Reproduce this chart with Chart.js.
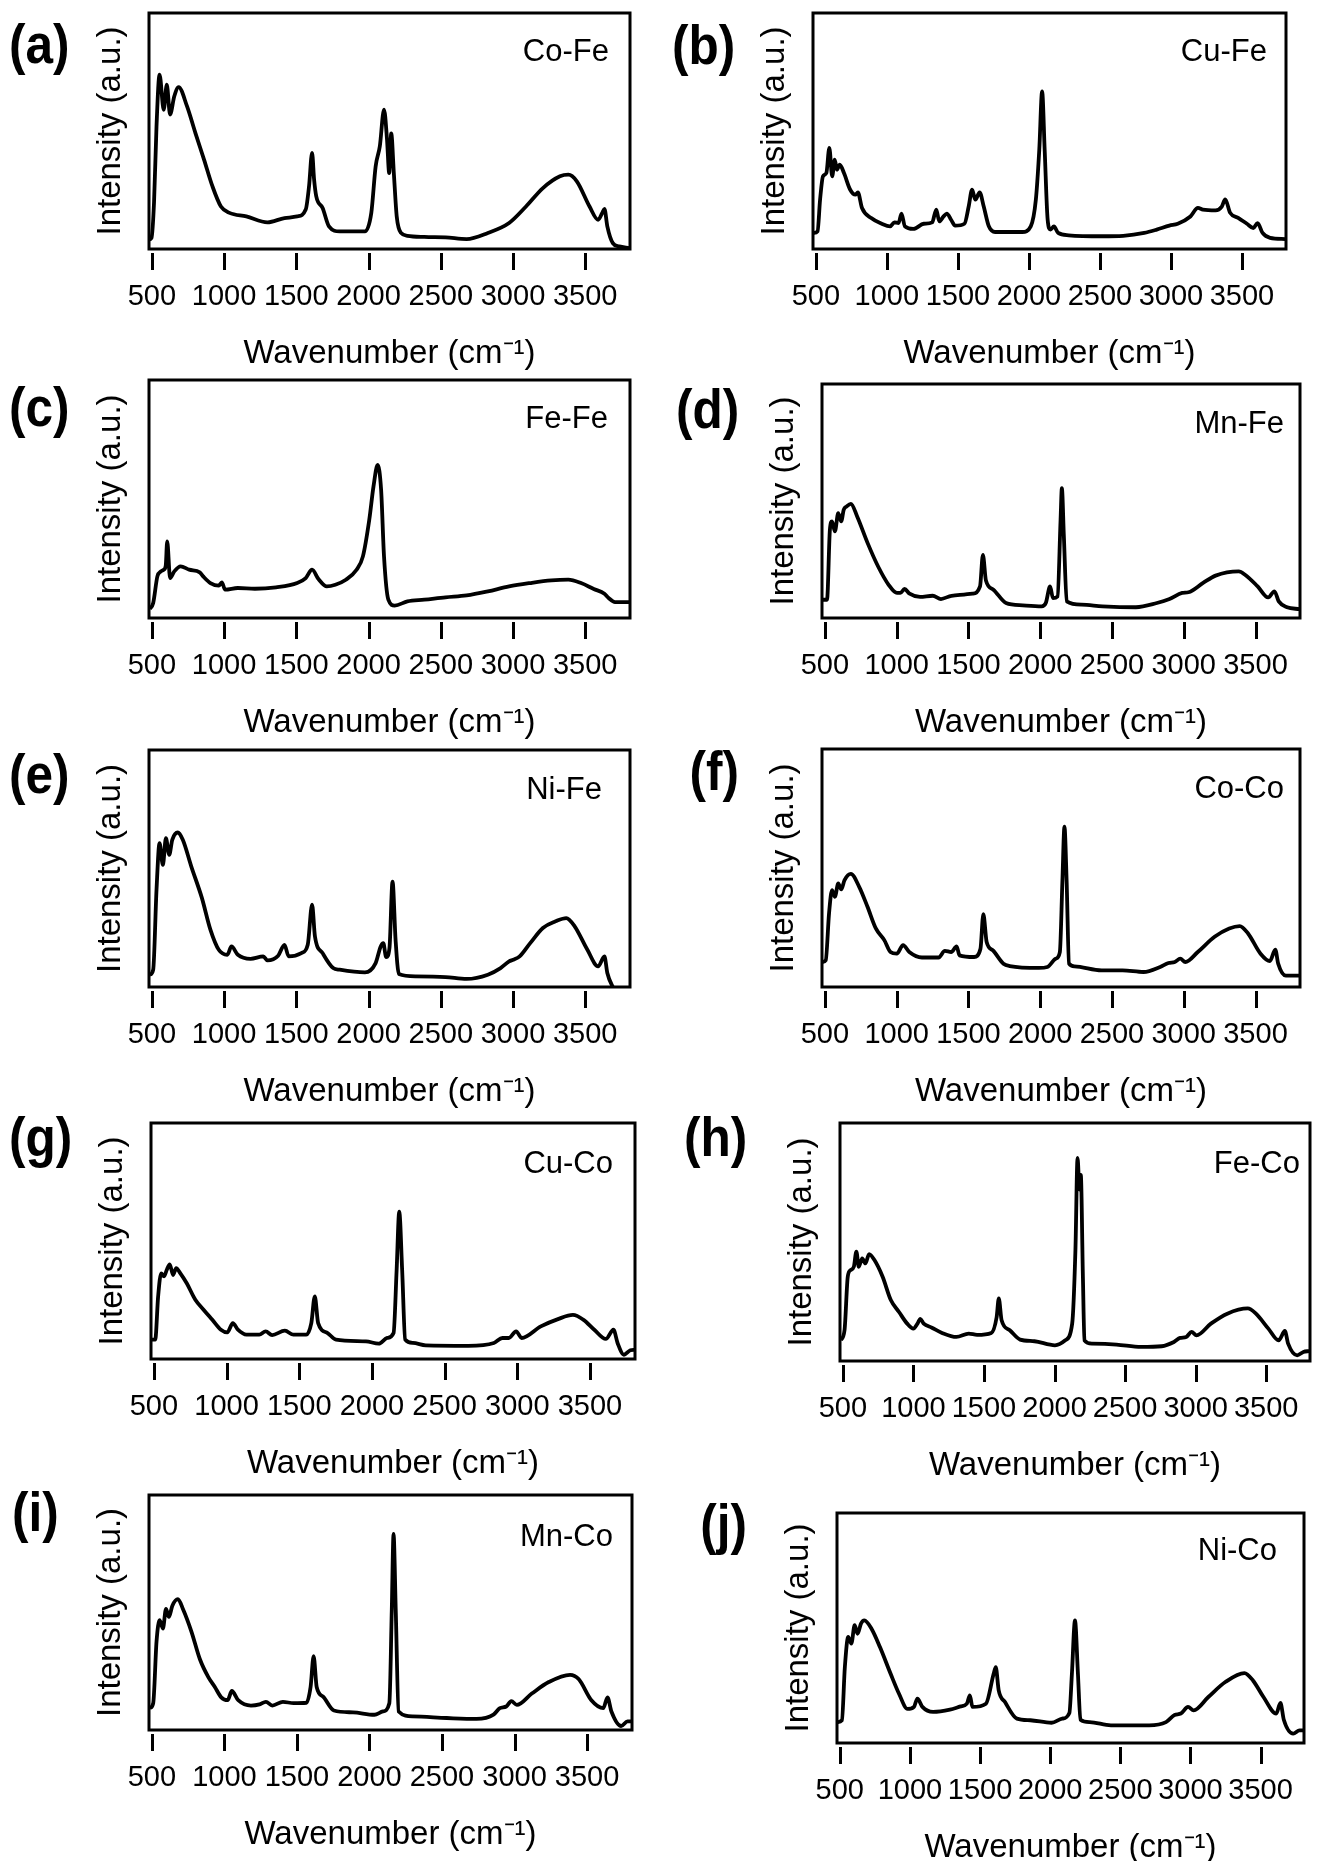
<!DOCTYPE html>
<html>
<head>
<meta charset="utf-8">
<script src="https://cdn.jsdelivr.net/npm/chart.js@4.4.1/dist/chart.umd.min.js"></script>
<style>
  html, body { margin: 0; padding: 0; background: #fff; }
  #page { position: relative; width: 1317px; height: 1861px; overflow: hidden;
          font-family: "Liberation Sans", Arial, sans-serif; color: #000; }
  .panel { position: absolute; }
  .letter { position: absolute; font-weight: bold; font-size: 55px; line-height: 55px; white-space: nowrap; transform: scaleX(0.9); }
  .sample { position: absolute; font-size: 31px; line-height: 31px; white-space: nowrap; }
</style>
</head>
<body>
<div id="page"></div>
<script>
// axis text
var tickValues = [500, 1000, 1500, 2000, 2500, 3000, 3500];
var xTitle = 'Wavenumber (cm\u207B\u00B9)';
var yTitle = 'Intensity (a.u.)';
var panelLetters = ['(a)', '(b)', '(c)', '(d)', '(e)', '(f)', '(g)', '(h)', '(i)', '(j)'];
var sampleNames = ['Co-Fe', 'Cu-Fe', 'Fe-Fe', 'Mn-Fe', 'Ni-Fe', 'Co-Co', 'Cu-Co', 'Fe-Co', 'Mn-Co', 'Ni-Co'];

// spectra: wavenumber (cm-1) and intensity (% of panel height)
var coFeWave = [482, 497, 515, 532, 553, 582, 603, 626, 655, 685, 743, 802, 861, 919, 978, 1037, 1154, 1300, 1418, 1506, 1565, 1588, 1609, 1623, 1638, 1682, 1726, 1800, 1975, 2019, 2049, 2078, 2107, 2128, 2143, 2157, 2175, 2195, 2225, 2269, 2386, 2533, 2679, 2826, 2973, 3090, 3207, 3325, 3383, 3442, 3530, 3589, 3618, 3633, 3653, 3691, 3735, 3805];
var coFeInt = [4, 4.7, 20, 52, 73.9, 59, 69.6, 57, 64.7, 68.6, 60.5, 49, 37.9, 26.6, 18, 15.3, 13.8, 11.3, 13.1, 13.8, 16.7, 26.6, 40.7, 29.4, 22.3, 17.4, 9.6, 7.5, 7.5, 15.3, 35, 43.5, 59, 46.3, 32.2, 49, 32.2, 13.8, 6.8, 5.6, 5.1, 4.9, 4.2, 6.8, 11, 18, 25.8, 30.8, 31.5, 28.7, 18, 12.4, 15.3, 17, 9.6, 2.5, 1.1, 0.4];

var cuFeWave = [485, 512, 530, 550, 574, 595, 615, 633, 648, 668, 698, 742, 778, 796, 825, 890, 964, 1023, 1053, 1082, 1103, 1127, 1186, 1260, 1319, 1348, 1369, 1399, 1422, 1452, 1481, 1546, 1576, 1600, 1623, 1653, 1682, 1718, 1762, 1954, 2013, 2049, 2073, 2093, 2111, 2132, 2152, 2176, 2206, 2280, 2516, 2664, 2812, 2900, 2989, 3048, 3137, 3190, 3225, 3314, 3358, 3382, 3417, 3476, 3535, 3580, 3610, 3645, 3698, 3805];
var cuFeInt = [6.8, 7.5, 21, 30.8, 32.2, 42.8, 30.8, 37.9, 33.6, 35.7, 32.2, 25.1, 23, 24, 17.4, 13.1, 10.7, 9.6, 11.3, 11, 15, 9.6, 8.5, 10.7, 11.3, 16.7, 11.7, 13.8, 15, 12.4, 9.9, 10.7, 18, 25.1, 20.9, 24, 18, 9.6, 7.2, 7.2, 9.6, 21, 42, 66.8, 42, 12.4, 8.2, 9.6, 6.8, 5.8, 5.4, 5.6, 6.8, 8.2, 9.9, 10.7, 13.8, 17.4, 16.7, 16.4, 18, 21, 15.3, 13.1, 10.7, 8.9, 11, 6.8, 4.7, 4.2];

var feFeWave = [485, 509, 538, 562, 582, 596, 606, 626, 655, 699, 758, 831, 855, 905, 963, 984, 1007, 1095, 1213, 1359, 1506, 1565, 1609, 1653, 1711, 1770, 1843, 1917, 1961, 2005, 2034, 2063, 2087, 2107, 2137, 2181, 2269, 2386, 2533, 2679, 2826, 2973, 3119, 3266, 3383, 3471, 3559, 3633, 3662, 3706, 3809];
var feFeInt = [3.8, 6.3, 17.5, 19.6, 20.3, 22, 32.2, 16.8, 19.6, 21.7, 20.3, 19.2, 17.5, 14.7, 13.6, 15, 11.9, 12.6, 12.3, 12.9, 14.7, 16.8, 20.3, 16.4, 13.3, 14, 16.1, 20.3, 25.9, 41.3, 55.2, 64.3, 53.8, 25.9, 7.7, 5.2, 7, 7.7, 8.7, 9.5, 11.2, 13.3, 14.7, 15.8, 16.1, 14.7, 12.2, 10.2, 8.4, 6.7, 6.7];

var mnFeWave = [485, 515, 535, 550, 570, 593, 614, 631, 652, 681, 725, 798, 871, 944, 1002, 1026, 1055, 1090, 1163, 1251, 1309, 1382, 1528, 1581, 1601, 1622, 1674, 1762, 1879, 2010, 2039, 2069, 2089, 2121, 2142, 2151, 2165, 2185, 2288, 2434, 2667, 2813, 2901, 2989, 3033, 3135, 3222, 3383, 3427, 3515, 3588, 3632, 3662, 3720, 3807];
var mnFeInt = [7.8, 7.8, 37.7, 41.3, 37, 44.8, 41.3, 46.2, 47.7, 48.8, 43.4, 32, 22, 14.2, 10.7, 10.7, 12.4, 10.4, 9, 9.5, 8.1, 9.5, 10.4, 13.5, 27, 16, 12.1, 6.4, 5.4, 5, 6.4, 13.5, 8.5, 9.2, 41.9, 55.5, 34.9, 7.1, 5.7, 5, 4.6, 6.4, 8.1, 10.7, 11, 15, 18.1, 19.9, 18.5, 13.5, 8.8, 11.4, 7.1, 4.6, 3.8];

var niFeWave = [485, 509, 532, 553, 576, 597, 620, 641, 679, 714, 773, 846, 905, 963, 1022, 1051, 1095, 1183, 1271, 1300, 1374, 1418, 1447, 1535, 1579, 1609, 1629, 1682, 1755, 1800, 1975, 2049, 2084, 2102, 2122, 2145, 2166, 2187, 2210, 2327, 2533, 2679, 2826, 2914, 2973, 3002, 3046, 3119, 3207, 3295, 3369, 3427, 3515, 3589, 3633, 3653, 3691, 3735];
var niFeInt = [5.2, 7.3, 41, 60.7, 51.5, 62.8, 55.8, 62.1, 65.2, 62.1, 50.8, 37.6, 24.2, 15.7, 13.6, 17.1, 13.6, 11.9, 12.9, 11.2, 13.2, 17.8, 12.9, 14.3, 17.8, 34.7, 21.3, 14.3, 8, 7.3, 6.2, 10.1, 17.1, 18.5, 12.6, 16.6, 44.5, 19.9, 5.5, 4.5, 4.2, 3.4, 5.2, 8, 10.8, 11.5, 12.9, 18.5, 24.9, 27.7, 29.1, 25.6, 15.7, 8.7, 12.9, 5.9, 0, -4];

var coCoWave = [485, 506, 529, 550, 570, 593, 614, 637, 681, 739, 797, 855, 914, 957, 1001, 1045, 1088, 1176, 1292, 1336, 1380, 1418, 1438, 1540, 1584, 1604, 1627, 1671, 1744, 1788, 1991, 2050, 2108, 2137, 2155, 2169, 2184, 2201, 2239, 2428, 2574, 2720, 2836, 2894, 2938, 2976, 3011, 3098, 3215, 3317, 3390, 3448, 3535, 3600, 3638, 3658, 3711, 3805];
var coCoInt = [10.5, 11.2, 30.9, 40.7, 37.9, 43.5, 41, 44.9, 47.5, 42.1, 33.7, 24.6, 19.7, 14.7, 14, 17.6, 14.7, 12.4, 12.4, 15.2, 14.7, 17.1, 13.3, 12.6, 16.1, 30.6, 18.9, 15.4, 9.8, 8.8, 8, 8.4, 11.9, 14.7, 44.9, 67.4, 44.9, 9.8, 8.7, 7, 7, 6.3, 8.4, 10.1, 10.5, 11.9, 10.5, 14.7, 21.1, 24.6, 25.6, 22.5, 14, 10.9, 15.7, 9.8, 4.8, 4.8];

var cuCoWave = [485, 509, 529, 550, 570, 588, 609, 632, 653, 682, 726, 785, 843, 902, 961, 1005, 1043, 1078, 1137, 1225, 1269, 1313, 1401, 1460, 1548, 1583, 1607, 1630, 1695, 1753, 1959, 2047, 2105, 2149, 2170, 2188, 2208, 2229, 2282, 2370, 2663, 2839, 2898, 2942, 2992, 3030, 3162, 3280, 3383, 3456, 3530, 3609, 3662, 3690, 3734, 3778, 3808];
var cuCoInt = [8.2, 8.2, 26.5, 36.3, 35, 37.7, 40.1, 35.6, 38.5, 36.3, 32.1, 25.1, 20.8, 16.6, 12.4, 11.3, 15.2, 12.4, 10.3, 10.3, 11.7, 10.1, 12, 10.3, 10.3, 15.2, 26.5, 15.2, 11, 8.2, 7.5, 6.5, 8.9, 11, 37.7, 62.4, 37.7, 8.2, 6.8, 5.8, 5.6, 6.8, 8.9, 8.9, 11.7, 8.9, 13.8, 16.9, 18.7, 16.6, 12.4, 8.5, 12.4, 6.8, 1.8, 3.7, 3.9];

var feCoWave = [485, 512, 535, 555, 578, 596, 613, 637, 660, 686, 724, 782, 840, 898, 956, 1000, 1029, 1049, 1073, 1131, 1203, 1305, 1392, 1451, 1552, 1590, 1605, 1625, 1683, 1756, 1858, 2003, 2076, 2125, 2148, 2163, 2177, 2186, 2201, 2212, 2265, 2439, 2613, 2759, 2846, 2890, 2933, 2971, 3006, 3108, 3224, 3369, 3427, 3515, 3588, 3632, 3655, 3719, 3763, 3805];
var feCoInt = [8.7, 12.9, 35.4, 38.2, 39.6, 45.9, 39.6, 43.1, 41, 44.9, 42.4, 35.4, 25.6, 20.6, 15.7, 13.6, 15.7, 17.7, 15.7, 14, 11.8, 10.1, 11.5, 11, 11.8, 18.5, 26.3, 17.1, 12.9, 9, 8.3, 6.6, 8.7, 15.7, 46.6, 85.3, 72, 78.2, 35.4, 8.7, 7.3, 6.9, 5.9, 6.2, 8, 9.7, 10.1, 12.2, 10.8, 15.7, 19.9, 22.1, 19.9, 13.6, 8.7, 12.6, 7.3, 2.4, 3.8, 4.2];

var mnCoWave = [485, 509, 532, 553, 576, 597, 617, 641, 679, 714, 773, 831, 890, 934, 978, 1022, 1051, 1095, 1183, 1242, 1286, 1330, 1403, 1477, 1565, 1594, 1615, 1636, 1682, 1755, 1887, 2034, 2093, 2137, 2154, 2166, 2181, 2201, 2298, 2533, 2738, 2855, 2899, 2943, 2978, 3016, 3119, 3236, 3383, 3442, 3530, 3612, 3641, 3668, 3735, 3779, 3809];
var mnCoInt = [9.3, 11.4, 37.7, 46.7, 43.2, 51.5, 48.1, 52.9, 55.7, 51.5, 41.8, 30.1, 22.4, 18.3, 13.9, 12.7, 16.6, 12.7, 10.4, 10.9, 12, 10.4, 12, 11.4, 11.6, 18.3, 31.4, 18.3, 14.1, 8.3, 7.5, 6.5, 7.9, 11.4, 51.5, 83.4, 51.5, 7.9, 5.8, 5.1, 4.7, 6.5, 9.3, 10, 12.3, 10.7, 15.5, 20.4, 23.5, 21.7, 12.7, 9.3, 13.9, 7.9, 1.7, 3.7, 3.7];

var niCoWave = [485, 515, 536, 560, 582, 606, 627, 651, 675, 727, 787, 863, 923, 983, 1029, 1053, 1089, 1165, 1285, 1361, 1406, 1427, 1446, 1542, 1597, 1612, 1633, 1678, 1763, 1859, 2010, 2086, 2137, 2155, 2177, 2198, 2216, 2282, 2433, 2705, 2826, 2887, 2932, 2983, 3023, 3128, 3249, 3385, 3446, 3521, 3612, 3642, 3666, 3733, 3778, 3808];
var niCoInt = [9.1, 9.9, 33, 46.1, 43.2, 51.2, 47.5, 51.9, 53.3, 49.6, 41.6, 30, 21.3, 14.8, 15.7, 19.3, 15.7, 13.5, 14.5, 15.9, 17.1, 20.7, 15.7, 17.1, 30.1, 33, 22.9, 17.8, 10.6, 9.9, 8.8, 10.6, 13, 30.1, 53.3, 30.1, 10.1, 9.1, 7.7, 7.7, 9.1, 12.2, 12.8, 15.7, 14.2, 20, 26.5, 30.4, 27.2, 20, 12.8, 17.4, 10.1, 4.1, 5.5, 5.5];

var spectra = [
  [coFeWave, coFeInt], [cuFeWave, cuFeInt], [feFeWave, feFeInt], [mnFeWave, mnFeInt], [niFeWave, niFeInt],
  [coCoWave, coCoInt], [cuCoWave, cuCoInt], [feCoWave, feCoInt], [mnCoWave, mnCoInt], [niCoWave, niCoInt]
];

// page layout (pixels): plot box [left, top, right, bottom], letter and sample label anchors
var boxes = [
  [149, 13, 630, 249], [813, 13, 1286, 249],
  [149, 380, 630, 618], [822, 384, 1300, 618],
  [149, 750, 630, 987], [822, 749, 1300, 987],
  [151, 1123, 635, 1359], [840, 1123, 1310, 1361],
  [149, 1495, 632, 1730], [837, 1513, 1304, 1743]
];
var letterAnchors = [ // [x, centerY, side]
  [9, 49, 'l'], [735, 50, 'r'], [9, 412, 'l'], [739, 414, 'r'], [9, 779, 'l'],
  [739, 776, 'r'], [9, 1142, 'l'], [747, 1142, 'r'], [12, 1517, 'l'], [747, 1529, 'r']
];
var nameAnchors = [ // [right edge, centerY]
  [609, 50], [1267, 50], [608, 417], [1284, 422], [602, 788],
  [1284, 787], [613, 1162], [1300, 1162], [613, 1535], [1277, 1549]
];

var FONT = '"Liberation Sans", Arial, sans-serif';
var WL = 60, HB = 125, PAD = 4;
var page = document.getElementById('page');

var framePlugin = {
  id: 'frame',
  afterDraw: function (chart) {
    var a = chart.chartArea, ctx = chart.ctx, xs = chart.scales.x;
    ctx.save();
    ctx.strokeStyle = '#000';
    ctx.lineWidth = 3;
    ctx.strokeRect(a.left, a.top, a.right - a.left, a.bottom - a.top);
    xs.ticks.forEach(function (t) {
      var px = Math.round(xs.getPixelForValue(t.value)) + 0.5;
      ctx.beginPath();
      ctx.moveTo(px, a.bottom + 4);
      ctx.lineTo(px, a.bottom + 21);
      ctx.stroke();
    });
    ctx.restore();
  }
};

spectra.forEach(function (s, i) {
  var b = boxes[i];
  var w = WL + (b[2] - b[0]) + PAD;
  var h = PAD + (b[3] - b[1]) + HB;

  var holder = document.createElement('div');
  holder.className = 'panel';
  holder.style.left = (b[0] - WL) + 'px';
  holder.style.top = (b[1] - PAD) + 'px';
  var cv = document.createElement('canvas');
  cv.width = w;
  cv.height = h;
  holder.appendChild(cv);
  page.appendChild(holder);

  var la = letterAnchors[i];
  var lt = document.createElement('div');
  lt.className = 'letter';
  lt.textContent = panelLetters[i];
  lt.style.top = (la[1] - 32) + 'px';
  if (la[2] === 'l') {
    lt.style.left = la[0] + 'px';
    lt.style.transformOrigin = 'left center';
  } else {
    lt.style.right = (1317 - la[0]) + 'px';
    lt.style.transformOrigin = 'right center';
  }
  page.appendChild(lt);

  var na = nameAnchors[i];
  var nm = document.createElement('div');
  nm.className = 'sample';
  nm.textContent = sampleNames[i];
  nm.style.top = (na[1] - 15) + 'px';
  nm.style.right = (1317 - na[0]) + 'px';
  page.appendChild(nm);

  var pts = s[0].map(function (x, k) { return { x: x, y: s[1][k] }; });

  new Chart(cv, {
    type: 'line',
    data: {
      datasets: [{
        data: pts,
        borderColor: '#000',
        borderWidth: 3.8,
        pointRadius: 0,
        fill: false,
        cubicInterpolationMode: 'monotone',
        borderJoinStyle: 'round',
        clip: 1
      }]
    },
    options: {
      responsive: false,
      devicePixelRatio: 1,
      animation: false,
      layout: { padding: { top: PAD, right: PAD, left: 0, bottom: 0 } },
      plugins: { legend: { display: false }, tooltip: { enabled: false } },
      scales: {
        x: {
          type: 'linear',
          min: 480,
          max: 3810,
          afterBuildTicks: function (axis) {
            axis.ticks = tickValues.map(function (v) { return { value: v }; });
          },
          afterFit: function (axis) {
            axis.height = HB;
            axis.paddingLeft = 0;
            axis.paddingRight = 0;
          },
          ticks: {
            autoSkip: false,
            maxRotation: 0,
            padding: 11,
            color: '#000',
            font: { family: FONT, size: 29 },
            callback: function (v) { return String(v); }
          },
          grid: { display: false, drawTicks: true, tickLength: 20 },
          border: { display: false },
          title: {
            display: true,
            text: xTitle,
            color: '#000',
            font: { family: FONT, size: 33 },
            padding: { top: 0, bottom: 0 }
          }
        },
        y: {
          min: 0,
          max: 100,
          afterFit: function (axis) {
            axis.width = WL;
            axis.paddingTop = 0;
            axis.paddingBottom = 0;
          },
          ticks: { display: false },
          grid: { display: false, drawTicks: false },
          border: { display: false },
          title: {
            display: true,
            text: yTitle,
            color: '#000',
            font: { family: FONT, size: 33 },
            padding: { top: 2, bottom: 0 }
          }
        }
      }
    },
    plugins: [framePlugin]
  });
});
</script>
</body>
</html>
